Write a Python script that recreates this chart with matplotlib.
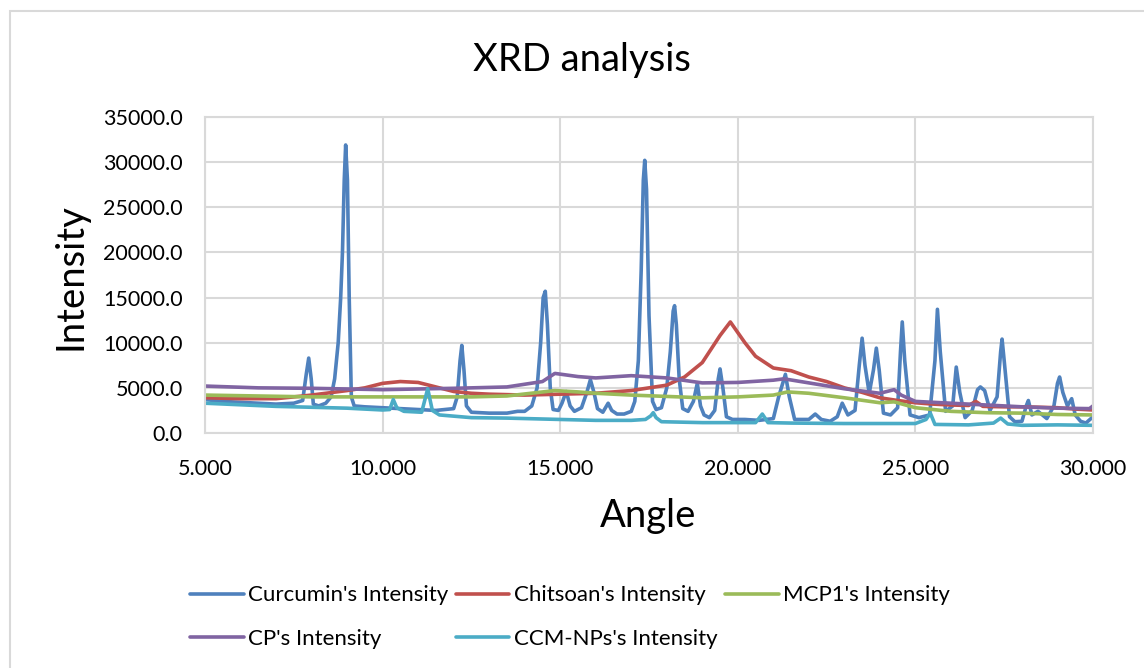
import matplotlib
matplotlib.use("Agg")
import matplotlib.pyplot as plt
from matplotlib.patches import Rectangle

plt.rcParams['font.family'] = ['Lato', 'DejaVu Sans']

# Curcumin diffraction pattern (angle, intensity)
curcumin_angle = [5.0, 5.5, 6.0, 6.5, 7.0, 7.5, 7.75, 7.85, 7.92, 7.99, 8.05, 8.2, 8.4, 8.55,
                  8.65, 8.75, 8.82, 8.87, 8.92, 8.96, 9.01, 9.06, 9.12, 9.2, 9.5, 10.0, 10.5,
                  11.0, 11.5, 12.0, 12.1, 12.18, 12.23, 12.29, 12.36, 12.5, 13.0, 13.5, 13.8,
                  14.0, 14.2, 14.35, 14.45, 14.52, 14.58, 14.64, 14.72, 14.8, 14.95, 15.05,
                  15.17, 15.28, 15.4, 15.6, 15.75, 15.85, 15.95, 16.05, 16.2, 16.35, 16.45,
                  16.6, 16.8, 17.0, 17.1, 17.2, 17.28, 17.34, 17.38, 17.43, 17.5, 17.6, 17.7,
                  17.85, 18.0, 18.1, 18.18, 18.22, 18.27, 18.35, 18.45, 18.6, 18.75, 18.86,
                  18.95, 19.05, 19.2, 19.35, 19.45, 19.5, 19.58, 19.68, 19.85, 20.2, 20.6,
                  21.0, 21.15, 21.34, 21.45, 21.6, 22.0, 22.18, 22.35, 22.6, 22.8, 22.94,
                  23.1, 23.3, 23.42, 23.5, 23.58, 23.7, 23.82, 23.9, 23.98, 24.1, 24.3, 24.5,
                  24.58, 24.63, 24.7, 24.85, 25.1, 25.4, 25.55, 25.62, 25.7, 25.85, 26.05,
                  26.15, 26.25, 26.4, 26.6, 26.75, 26.83, 26.95, 27.1, 27.3, 27.4, 27.44,
                  27.5, 27.65, 27.8, 28.0, 28.12, 28.18, 28.28, 28.45, 28.7, 28.9, 29.0,
                  29.06, 29.15, 29.28, 29.4, 29.5, 29.65, 29.8, 30.0]
curcumin_intensity = [3700, 3500, 3400, 3300, 3200, 3300, 3600, 6500, 8300, 6000, 3200, 3000,
                      3300, 4000, 6000, 10000, 15000, 20000, 28000, 31900, 28000, 15000, 4000,
                      3000, 2900, 2800, 2700, 2600, 2500, 2700, 4000, 8000, 9700, 7000, 3000,
                      2300, 2200, 2200, 2400, 2400, 3000, 5000, 10000, 15000, 15700, 12000,
                      5000, 2600, 2500, 3300, 4600, 3000, 2400, 2800, 4500, 5900, 4500, 2700,
                      2300, 3300, 2500, 2100, 2100, 2400, 3500, 8000, 18000, 28000, 30200,
                      27000, 13000, 3500, 2600, 2800, 5000, 9000, 13500, 14100, 12000, 6000,
                      2700, 2400, 3500, 5500, 3000, 2000, 1700, 2500, 6000, 7100, 5000, 1800,
                      1500, 1500, 1400, 1600, 4000, 6500, 4000, 1500, 1500, 2100, 1500, 1300,
                      1800, 3300, 2000, 2500, 7500, 10500, 7500, 4400, 7000, 9400, 7000, 2200,
                      2000, 2800, 9000, 12300, 8000, 2000, 1700, 2000, 8000, 13700, 9000, 2400,
                      3000, 7300, 4500, 1700, 2500, 4800, 5100, 4700, 2500, 4000, 9000, 10400,
                      8000, 1800, 1250, 1300, 3000, 3600, 2000, 2400, 1600, 3000, 5500, 6200,
                      4500, 3000, 3800, 2000, 1300, 1100, 1800]

# Chitosan
chitosan_angle = [5.0, 6.0, 7.0, 8.0, 9.0, 9.5, 10.0, 10.5, 11.0, 11.5, 12.0, 12.5, 13.0,
                  14.0, 15.0, 16.0, 17.0, 17.5, 18.0, 18.5, 19.0, 19.5, 19.79, 20.2, 20.5,
                  21.0, 21.5, 22.0, 22.5, 23.0, 23.5, 24.0, 24.5, 25.0, 25.5, 26.0, 26.5,
                  26.7, 26.9, 27.5, 28.0, 28.5, 29.0, 29.5, 30.0]
chitosan_intensity = [3900, 3800, 3800, 4200, 4700, 5000, 5500, 5700, 5600, 5100, 4600, 4400,
                      4300, 4200, 4300, 4400, 4700, 5000, 5300, 6200, 7800, 10800, 12300, 10000,
                      8500, 7200, 6900, 6200, 5700, 5000, 4500, 3900, 3600, 3350, 3200, 3100,
                      3050, 3500, 2950, 2900, 2900, 2850, 2800, 2650, 2550]

# MCP1
mcp1_angle = [5.0, 6.5, 8.0, 10.0, 12.5, 13.5, 14.85, 15.5, 16.0, 17.0, 18.0, 19.0, 20.0,
              21.0, 21.4, 22.0, 23.0, 24.0, 24.4, 25.0, 26.0, 27.0, 28.0, 29.0, 30.0]
mcp1_intensity = [4200, 4100, 4000, 4000, 4000, 4100, 4700, 4550, 4400, 4200, 4050, 3900,
                  4000, 4200, 4550, 4400, 3900, 3350, 3450, 2800, 2400, 2250, 2200, 2050, 2000]

# CP
cp_angle = [5.0, 6.5, 8.0, 10.0, 12.0, 13.5, 14.5, 14.85, 15.5, 16.0, 17.0, 18.0, 19.0, 20.0,
            21.0, 21.3, 22.0, 23.0, 24.0, 24.4, 24.6, 25.0, 26.0, 27.0, 28.0, 29.0, 29.9, 30.0]
cp_intensity = [5200, 5000, 4950, 4800, 4950, 5100, 5700, 6600, 6250, 6100, 6350, 6100, 5550,
                5600, 5850, 6000, 5550, 4900, 4400, 4800, 4200, 3500, 3300, 3100, 2900, 2750,
                2700, 3000]

# CCM-NPs
ccm_angle = [5.0, 7.0, 9.0, 10.0, 10.2, 10.3, 10.4, 10.6, 11.1, 11.27, 11.4, 11.6, 12.5,
             13.5, 14.5, 16.0, 17.0, 17.4, 17.55, 17.62, 17.7, 17.85, 19.0, 20.5, 20.69,
             20.85, 21.5, 23.0, 24.0, 25.0, 25.3, 25.42, 25.55, 26.5, 27.2, 27.4, 27.6,
             28.0, 29.0, 30.0]
ccm_intensity = [3300, 2950, 2750, 2550, 2600, 3700, 2800, 2400, 2300, 4900, 2500, 2000, 1700,
                 1650, 1550, 1400, 1400, 1500, 1900, 2250, 1700, 1250, 1150, 1150, 2100, 1150,
                 1100, 1050, 1050, 1050, 1500, 2200, 950, 900, 1100, 1650, 1000, 850, 900, 850]

series_names = ["Curcumin's Intensity", "Chitsoan's Intensity", "MCP1's Intensity",
                "CP's Intensity", "CCM-NPs's Intensity"]
series_colors = ["#4f81bd", "#c0504d", "#9bbb59", "#8064a2", "#4bacc6"]

x_ticks = [5, 10, 15, 20, 25, 30]
y_ticks = [0, 5000, 10000, 15000, 20000, 25000, 30000, 35000]

fig = plt.figure(figsize=(11.44, 6.68), dpi=100)
# chart-area frame
fig.patches.append(Rectangle((10 / 1144, -0.05), 1.2, 1 - 11 / 668 + 0.05,
                             transform=fig.transFigure, fill=False,
                             edgecolor="#d9d9d9", linewidth=1.5))

ax = fig.add_axes([205 / 1144, 1 - 433 / 668, (1093 - 205) / 1144, (433 - 117) / 668])

data = [(curcumin_angle, curcumin_intensity), (chitosan_angle, chitosan_intensity),
        (mcp1_angle, mcp1_intensity), (cp_angle, cp_intensity), (ccm_angle, ccm_intensity)]
handles = []
for (xs, ys), name, color in zip(data, series_names, series_colors):
    ln, = ax.plot(xs, ys, color=color, linewidth=2.6, solid_joinstyle="round",
                  solid_capstyle="round", label=name)
    handles.append(ln)

ax.set_xlim(5, 30)
ax.set_ylim(0, 35000)
ax.set_xticks(x_ticks)
ax.set_yticks(y_ticks)
ax.set_xticklabels([f"{v:.3f}" for v in x_ticks])
ax.set_yticklabels([f"{v:.1f}" for v in y_ticks])
ax.tick_params(length=0, labelsize=15.5, colors="black")
ax.tick_params(axis="x", pad=19)
ax.tick_params(axis="y", pad=16)
ax.grid(True, color="#d9d9d9", linewidth=1.5)
ax.set_axisbelow(True)
for s in ax.spines.values():
    s.set_color("#d9d9d9")
    s.set_linewidth(1.5)

fig.text(582 / 1144, 1 - 60 / 668, "XRD analysis", fontsize=27.5, ha="center", va="center")
fig.text(70 / 1144, 1 - 277 / 668, "Intensity", fontsize=27.5, ha="center", va="center",
         rotation=90)
fig.text(648 / 1144, 1 - 516 / 668, "Angle", fontsize=27.5, ha="center", va="center")

# legend laid out in three columns, two rows
order = [0, 3, 1, 4, 2]
leg = fig.legend([handles[i] for i in order], [series_names[i] for i in order],
                 ncol=3, loc="center", bbox_to_anchor=(570 / 1144, 1 - 617 / 668),
                 frameon=False, fontsize=16, handlelength=2.4, handletextpad=0.2,
                 columnspacing=0.35, labelspacing=1.05, borderpad=0)

fig.savefig("out.png", dpi=100)
